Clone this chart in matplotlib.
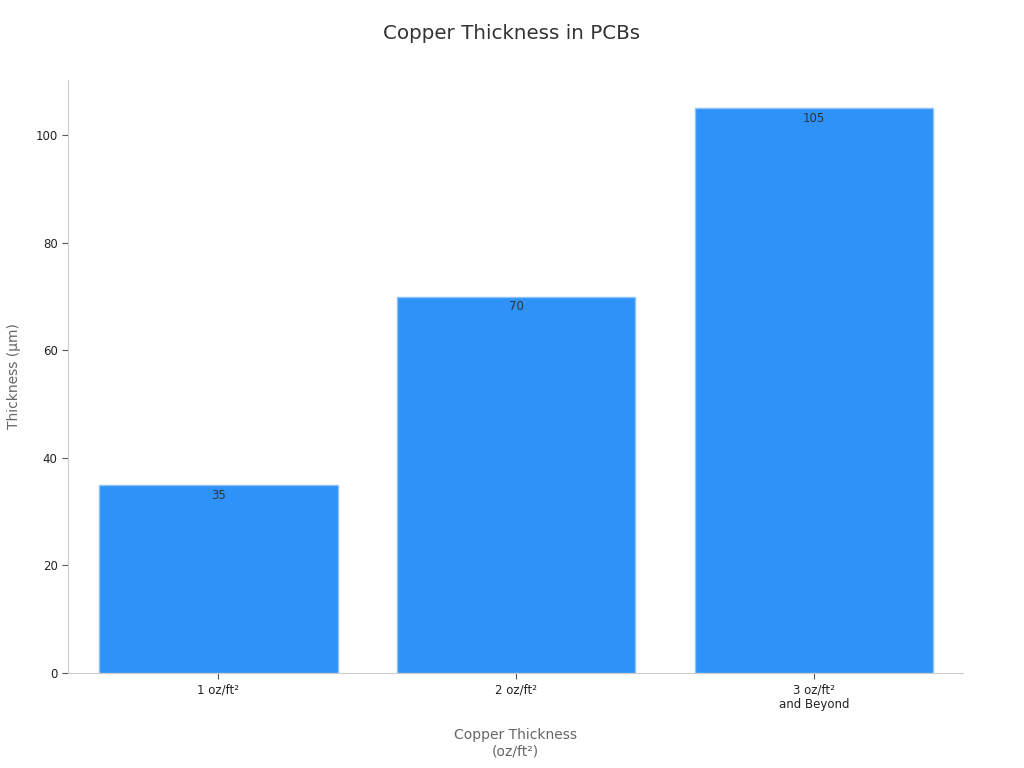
import matplotlib
matplotlib.use("Agg")
import matplotlib.pyplot as plt

categories = ["1 oz/ft²", "2 oz/ft²", "3 oz/ft²\nand Beyond"]
thickness_um = [35, 70, 105]

fig = plt.figure(figsize=(10.24, 7.68), dpi=100)
ax = fig.add_axes([0.0664, 0.1237, 0.874, 0.772])

x = list(range(len(categories)))
bars = ax.bar(x, thickness_um, width=0.8, color="#2E92F8", edgecolor="#8cc2f7", linewidth=1.0)

for xi, v in zip(x, thickness_um):
    ax.annotate(str(v), (xi, v), xytext=(0, -7.5), textcoords="offset points",
                ha="center", va="center", fontsize=8.5, color="#333333")

ax.set_xlim(-0.505, 2.5)
ax.set_ylim(0, 110.25)
ax.set_yticks([0, 20, 40, 60, 80, 100])
ax.set_xticks(x)
ax.set_xticklabels(categories)
ax.tick_params(axis="both", labelsize=8.5, colors="#222222", length=4, width=0.8)
ax.tick_params(axis="both", color="#555555")

for s in ["top", "right"]:
    ax.spines[s].set_visible(False)
ax.spines["left"].set_color("#cccccc")
ax.spines["bottom"].set_color("#cccccc")

ax.set_xlabel("Copper Thickness\n(oz/ft²)", fontsize=10, color="#666666", labelpad=12)
ax.set_ylabel("Thickness (µm)", fontsize=10, color="#666666", labelpad=10)
fig.suptitle("Copper Thickness in PCBs", fontsize=14.3, color="#333333", y=0.957, va="center")

fig.savefig("out.png", dpi=100)
